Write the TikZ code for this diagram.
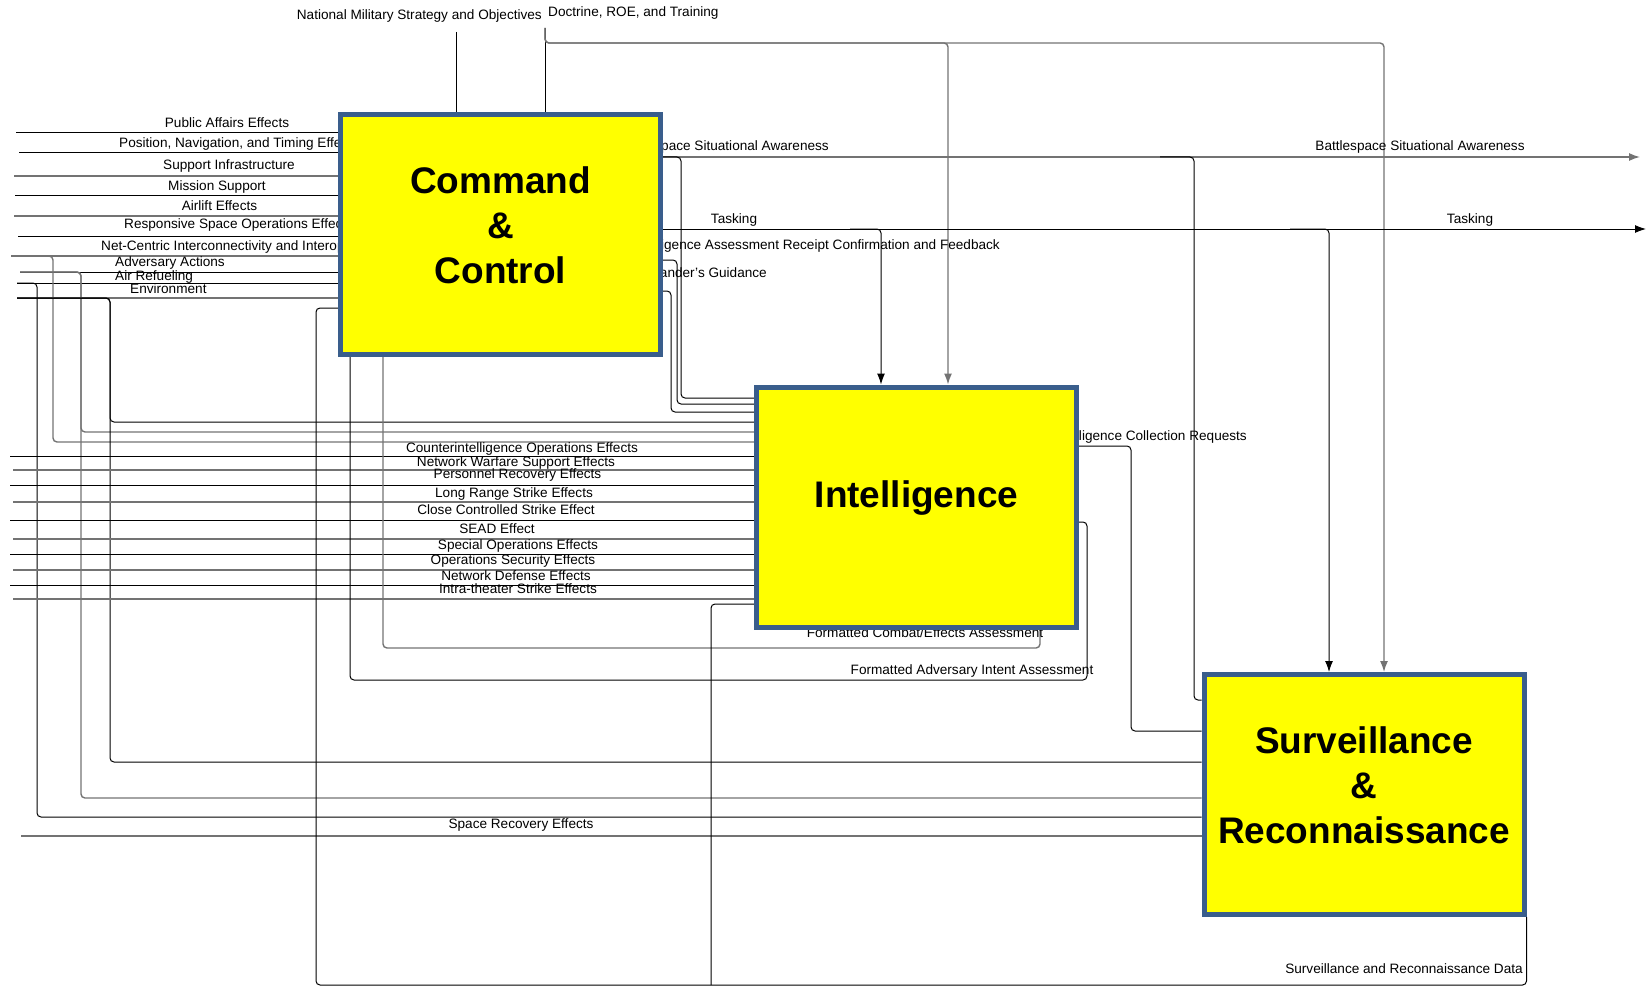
\documentclass[tikz,border=0pt]{standalone}
\usepackage{fontspec}
\setmainfont{Liberation Sans}
\usetikzlibrary{positioning, arrows.meta}
\definecolor{boxblue}{RGB}{58,94,140}
\definecolor{boxyellow}{RGB}{255,255,0}
\pgfdeclarelayer{bg}
\pgfsetlayers{bg,main}

\begin{document}
\begin{tikzpicture}[x=1pt, y=-1pt,
    activity/.style={rectangle, draw=boxblue, line width=5pt, fill=boxyellow, minimum width=320pt, minimum height=240pt, inner sep=0pt},
    boxtitle/.style={font=\fontsize{37}{45}\selectfont\bfseries, align=center, inner sep=0pt},
    flow/.style={draw=black, line width=1pt, rounded corners=4pt},
    flowg/.style={draw=black!55, line width=1.4pt, rounded corners=4pt},
    arrowin/.style={-{Latex[length=11pt,width=8pt]}},
    lbl/.style={font=\fontsize{13.6}{15}\selectfont, inner sep=0pt, anchor=base}]
            \useasboundingbox (0,0) rectangle (1651,987);

            % activities
            \node[activity] (cc) at (500.5,234.5) {};
            \node[activity] (intel) at (916.5,507) {};
            \node[activity] (sr) at (1364,794.5) {};
            \node[boxtitle] (cctitle) at ([yshift=9pt]cc.center) {Command\\\&\\Control};
            \node[boxtitle] (inteltitle) at ([yshift=9pt]intel.center) {Intelligence};
            \node[boxtitle] (srtitle) at ([yshift=9pt]sr.center) {Surveillance\\\&\\Reconnaissance};

            % free ends
            \coordinate (nms) at (456,32);
            \coordinate (doc) at (545,28);
            \coordinate (pae) at (16,133);
            \coordinate (pnt) at (19,153);
            \coordinate (sup) at (14,176);
            \coordinate (mis) at (15,196);
            \coordinate (air) at (14,216);
            \coordinate (rso) at (18,236);
            \coordinate (net) at (11,256);
            \coordinate (adv) at (20,272);
            \coordinate (arf) at (17,283);
            \coordinate (env) at (17,298);
            \coordinate (cio) at (10,456);
            \coordinate (nws) at (13,470);
            \coordinate (pre) at (10,485);
            \coordinate (lrs) at (13,502);
            \coordinate (ccs) at (10,520);
            \coordinate (sead) at (13,539);
            \coordinate (soe) at (10,554);
            \coordinate (ose) at (13,570);
            \coordinate (nde) at (10,585);
            \coordinate (its) at (13,599);
            \coordinate (sre) at (21,836);
            \coordinate (bsaout) at (1640,157);
            \coordinate (taskout) at (1646,229);

            \begin{pgfonlayer}{bg}
            % controls from the top
            \draw[flow] (nms) -- (nms |- cc.north);
            \draw[flow] (doc) -- (doc |- cc.north);
            \draw[flowg, arrowin] (doc) |- (948,43) -- (948,43 |- intel.north);
            \draw[flowg, arrowin] (doc) |- (1384,43) -- (1384,43 |- sr.north);

            % inputs to command and control
            \draw[flow] (pae) -- (pae -| cc.west);
            \draw[flow] (pnt) -- (pnt -| cc.west);
            \draw[flowg] (sup) -- (sup -| cc.west);
            \draw[flow] (mis) -- (mis -| cc.west);
            \draw[flowg] (air) -- (air -| cc.west);
            \draw[flow] (rso) -- (rso -| cc.west);
            \draw[flowg] (net) -- (net -| cc.west);
            \draw[flow] (adv) -- (adv -| cc.west);
            \draw[flow] (arf) -- (arf -| cc.west);
            \draw[flowg] (env) -- (env -| cc.west);
            \draw[flowg] (net) -| (53,442) -- (53,442 -| intel.west);
            \draw[flowg] (adv) -| (81,432) -- (81,432 -| intel.west);
            \draw[flowg] (adv) -| (81,798) -- (81,798 -| sr.west);
            \draw[flow] (arf) -| (37,817) -- (37,817 -| sr.west);
            \draw[flow] (env) -| (110,422) -- (110,422 -| intel.west);
            \draw[flow] (env) -| (110,762) -- (110,762 -| sr.west);

            % inputs to intelligence
            \draw[flow] (cio) -- (cio -| intel.west);
            \draw[flowg] (nws) -- (nws -| intel.west);
            \draw[flow] (pre) -- (pre -| intel.west);
            \draw[flowg] (lrs) -- (lrs -| intel.west);
            \draw[flow] (ccs) -- (ccs -| intel.west);
            \draw[flowg] (sead) -- (sead -| intel.west);
            \draw[flow] (soe) -- (soe -| intel.west);
            \draw[flowg] (ose) -- (ose -| intel.west);
            \draw[flow] (nde) -- (nde -| intel.west);
            \draw[flowg] (its) -- (its -| intel.west);
            \draw[flowg] (sre) -- (sre -| sr.west);

            % outputs of command and control
            \draw[flowg, arrowin] (cc.east |- bsaout) -- (bsaout);
            \draw[flow, arrowin] (cc.east |- taskout) -- (taskout);
            \draw[flow] (cc.east |- bsaout) -| (681,398) -- (681,398 -| intel.west);
            \draw[flow] (1160,157) -| (1194,700) -- (1194,700 -| sr.west);
            \draw[flow, arrowin] (850,229) -| (881,0 |- intel.north);
            \draw[flow, arrowin] (1290,229) -| (1329,0 |- sr.north);
            \draw[flow] (cc.east |- 0,260) -| (677,404) -- (677,404 -| intel.west);
            \draw[flow] (cc.east |- 0,291) -| (671,412) -- (671,412 -| intel.west);

            % outputs of intelligence
            \draw[flow] (intel.east |- 0,446) -| (1131,731) -- (1131,731 -| sr.west);
            \draw[flowg] (1040,0 |- intel.south) |- (383,648) -- (383,0 |- cc.south);
            \draw[flow] (intel.east |- 0,522) -| (1087,680) -- (350,680) -- (350,0 |- cc.south);

            % outputs of surveillance and reconnaissance
            \draw[flow] (sr.south east) |- (316,985) |- (316,308 -| cc.west);
            \draw[flow] (711,985) |- (711,604 -| intel.west);

            % labels
            \node[lbl, anchor=base east] (nmslbl) at (542,20) {National Military Strategy and Objectives};
            \node[lbl, anchor=base west] (doclbl) at (548,17) {Doctrine, ROE, and Training};
            \node[lbl] (paelbl) at (227,128) {Public Affairs Effects};
            \node[lbl, anchor=base west] (pntlbl) at (119,148) {Position, Navigation, and Timing Effects};
            \node[lbl] (suplbl) at (229,170) {Support Infrastructure};
            \node[lbl] (mislbl) at (217,191) {Mission Support};
            \node[lbl] (airlbl) at (219.5,211) {Airlift Effects};
            \node[lbl, anchor=base west] (rsolbl) at (124,229) {Responsive Space Operations Effects};
            \node[lbl, anchor=base west] (netlbl) at (101,250) {Net-Centric Interconnectivity and Interoperability};
            \node[lbl, anchor=base west] (advlbl) at (115,266) {Adversary Actions};
            \node[lbl, anchor=base west] (arflbl) at (115,280) {Air Refueling};
            \node[lbl, anchor=base west] (envlbl) at (130,293) {Environment};
            \node[lbl] (ciolbl) at (522,452) {Counterintelligence Operations Effects};
            \node[lbl] (nwslbl) at (516,466) {Network Warfare Support Effects};
            \node[lbl] (prelbl) at (517.5,478) {Personnel Recovery Effects};
            \node[lbl] (lrslbl) at (514,497) {Long Range Strike Effects};
            \node[lbl] (ccslbl) at (506,514) {Close Controlled Strike Effect};
            \node[lbl] (seadlbl) at (497,533) {SEAD Effect};
            \node[lbl] (soelbl) at (518,549) {Special Operations Effects};
            \node[lbl] (oselbl) at (513,564) {Operations Security Effects};
            \node[lbl] (ndelbl) at (516,580) {Network Defense Effects};
            \node[lbl] (itslbl) at (518,593) {Intra-theater Strike Effects};
            \node[lbl] (srelbl) at (521,828) {Space Recovery Effects};
            \node[lbl, anchor=base east] (bsalbl) at (829,151) {Battlespace Situational Awareness};
            \node[lbl] (bsaoutlbl) at (1420,151) {Battlespace Situational Awareness};
            \node[lbl] (tasklbl) at (734,223) {Tasking};
            \node[lbl] (taskoutlbl) at (1470,223) {Tasking};
            \node[lbl, anchor=base east] (iarlbl) at (1000,249) {Intelligence Assessment Receipt Confirmation and Feedback};
            \node[lbl, anchor=base east] (cglbl) at (767,277) {Commander's Guidance};
            \node[lbl, anchor=base east] (icrlbl) at (1247,440) {Intelligence Collection Requests};
            \node[lbl] (fcealbl) at (925,637) {Formatted Combat/Effects Assessment};
            \node[lbl] (faialbl) at (972,674) {Formatted Adversary Intent Assessment};
            \node[lbl] (srdlbl) at (1404,973) {Surveillance and Reconnaissance Data};
            \end{pgfonlayer}
        \end{tikzpicture}
\end{document}
